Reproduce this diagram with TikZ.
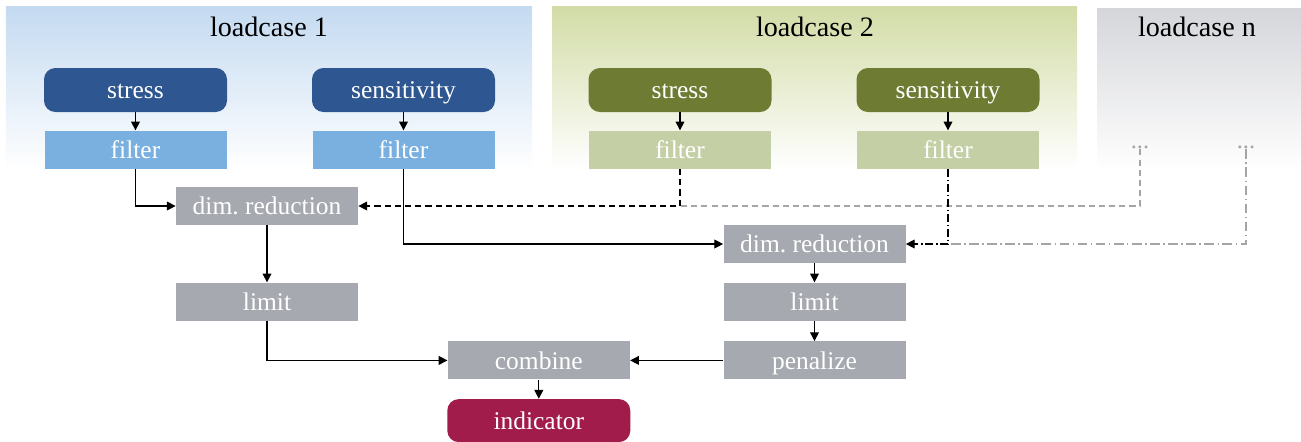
\documentclass[tikz,border=0pt]{standalone}
\usepackage{fontspec}
\setmainfont{Liberation Serif}
\usepackage{tikz}
\usetikzlibrary{arrows.meta, positioning, calc}
\definecolor{lcblue}{HTML}{2E5690}
\definecolor{lcbluelight}{HTML}{7AB0E0}
\definecolor{lcbluebg}{HTML}{C4DAF1}
\definecolor{lcolive}{HTML}{6E7B33}
\definecolor{lcolivelight}{HTML}{C4CFA6}
\definecolor{lcolivebg}{HTML}{D2DCA6}
\definecolor{lcgraybg}{HTML}{D5D6DA}
\definecolor{stepgray}{HTML}{A6A9AF}
\definecolor{indred}{HTML}{A21C4B}
\definecolor{linegray}{HTML}{A5A5A5}

\begin{document}
\begin{tikzpicture}[
  node distance=0.36cm,
  srcbox/.style={rounded corners=6.5pt, inner sep=0pt,
              minimum width=3.66cm, minimum height=0.88cm,
              text height=11pt, text depth=1pt,
              font=\fontsize{14.5}{17}\selectfont, text=white, align=center},
  stepbox/.style={inner sep=0pt,
              minimum width=3.64cm, minimum height=0.76cm,
              text height=11pt, text depth=1pt,
              font=\fontsize{14.5}{17}\selectfont, text=white, align=center},
  title/.style={anchor=base, font=\fontsize{16}{19}\selectfont, text=black},
  dotsnode/.style={inner sep=0pt, font=\fontsize{14}{16}\selectfont, text=linegray},
  arr/.style={-{Triangle[length=5pt, width=5pt]}, line width=0.7pt, color=black},
  dashedarr/.style={arr, dash pattern=on 3.5pt off 2.3pt},
  dotarr/.style={arr, dash pattern=on 4.5pt off 1.6pt on 0.8pt off 1.6pt},
  grayline/.style={line width=0.7pt, color=linegray}
]
  \useasboundingbox (0,0) rectangle (26.02,-8.82);

  % loadcase backgrounds
  \fill[top color=lcbluebg, bottom color=white] (0.12,-0.12) rectangle (10.64,-3.4);
  \fill[top color=lcolivebg, bottom color=white] (11.04,-0.12) rectangle (21.54,-3.4);
  \fill[top color=lcgraybg, bottom color=white] (21.94,-0.16) rectangle (26.02,-3.4);

  \node[title] (lc1) at (5.38,-0.72) {loadcase 1};
  \node[title] (lc2) at (16.30,-0.72) {loadcase 2};
  \node[title] (lcn) at (23.94,-0.72) {loadcase n};

  % loadcase 1
  \node[srcbox, fill=lcblue] (stress1) at (2.71,-1.80) {stress};
  \node[srcbox, fill=lcblue] (sens1) at (8.07,-1.80) {sensitivity};
  \node[stepbox, fill=lcbluelight, below=of stress1] (filt1) {filter};
  \node[stepbox, fill=lcbluelight, below=of sens1] (filt2) {filter};

  % loadcase 2
  \node[srcbox, fill=lcolive] (stress2) at (13.60,-1.80) {stress};
  \node[srcbox, fill=lcolive] (sens2) at (18.96,-1.80) {sensitivity};
  \node[stepbox, fill=lcolivelight, below=of stress2] (filt3) {filter};
  \node[stepbox, fill=lcolivelight, below=of sens2] (filt4) {filter};

  % loadcase n
  \node[dotsnode] (dotsa) at (22.80,-2.95) {...};
  \node[dotsnode] (dotsb) at (24.92,-2.95) {...};

  % processing chain
  \node[stepbox, fill=stepgray] (dimred1) at (5.34,-4.12) {dim.\ reduction};
  \node[stepbox, fill=stepgray, below=1.14cm of dimred1] (limit1) {limit};
  \node[stepbox, fill=stepgray] (dimred2) at (16.29,-4.88) {dim.\ reduction};
  \node[stepbox, fill=stepgray, below=0.38cm of dimred2] (limit2) {limit};
  \node[stepbox, fill=stepgray, below=0.40cm of limit2] (penal) {penalize};
  \node[stepbox, fill=stepgray, left=1.86cm of penal] (comb) {combine};
  \node[srcbox, fill=indred, below=0.38cm of comb, minimum height=0.86cm] (indic) {indicator};

  \coordinate (join1) at (filt3.south |- dimred1.east);
  \coordinate (join2) at (filt4.south |- dimred2.east);

  \draw[arr] (stress1) -- (filt1);
  \draw[arr] (sens1) -- (filt2);
  \draw[arr] (stress2) -- (filt3);
  \draw[arr] (sens2) -- (filt4);

  \draw[grayline, dash pattern=on 3.5pt off 2.3pt] (dotsa.south) |- (join1);
  \draw[grayline, dash pattern=on 5.5pt off 2pt on 0.8pt off 2pt] (dotsb.south) |- (join2);

  \draw[arr] (filt1.south) |- (dimred1.west);
  \draw[dashedarr] (filt3.south) |- (dimred1.east);
  \draw[arr] (filt2.south) |- (dimred2.west);
  \draw[dotarr] (filt4.south) |- (dimred2.east);

  \draw[arr] (dimred1) -- (limit1);
  \draw[arr] (dimred2) -- (limit2);
  \draw[arr] (limit2) -- (penal);
  \draw[arr] (limit1.south) |- (comb.west);
  \draw[arr] (penal) -- (comb);
  \draw[arr] (comb) -- (indic);
\end{tikzpicture}
\end{document}
